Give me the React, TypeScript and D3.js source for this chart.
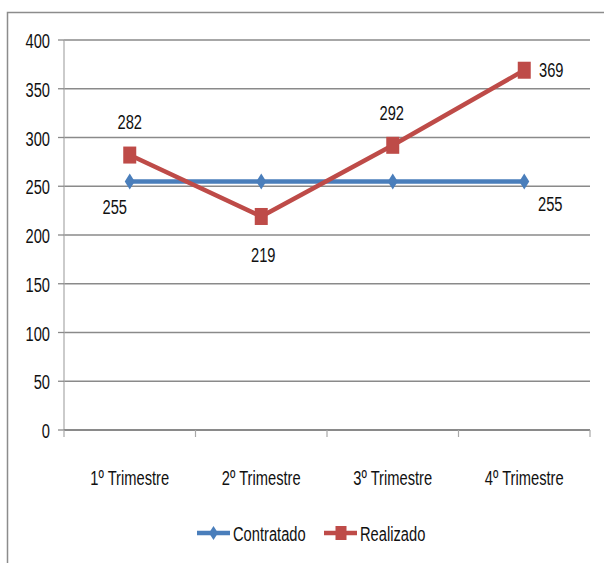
import React from "react";
import * as d3 from "d3";

const categories = ["1º Trimestre", "2º Trimestre", "3º Trimestre", "4º Trimestre"];
const contratado = [255, 255, 255, 255];
const realizado = [282, 219, 292, 369];
const yTicks = [0, 50, 100, 150, 200, 250, 300, 350, 400];
const contratadoLabelShown = [true, false, false, true];
// label placement relative to point: dx, dy (baseline)
const contratadoLabelPos = [[-15, 33], [0, 0], [0, 0], [26, 30]];
const realizadoLabelPos = [[0, -26], [2, 46], [-1, -25], [27, 7]];

const BLUE = "#4A7EBB";
const RED = "#BE4B48";
const FONT = "'Liberation Sans', Arial, sans-serif";

function Txt({ x, y, anchor = "middle", children, size = 21 }: any) {
  return (
    <g transform={`translate(${x},${y})`}>
      <text transform="scale(0.7,1)" textAnchor={anchor} fontSize={size} fontFamily={FONT} fill="#111">
        {children}
      </text>
    </g>
  );
}

function Diamond({ cx, cy, w = 10, h = 16 }: any) {
  const p = `M${cx},${cy - h / 2}L${cx + w / 2},${cy}L${cx},${cy + h / 2}L${cx - w / 2},${cy}Z`;
  return <path d={p} fill={BLUE} />;
}

function Square({ cx, cy, w = 13, h = 17 }: any) {
  return <rect x={cx - w / 2} y={cy - h / 2} width={w} height={h} fill={RED} />;
}

export default function App() {
  const left = 64, right = 590, top = 40, bottom = 430;
  const y = d3.scaleLinear().domain([0, 400]).range([bottom, top]);
  const x = d3.scaleBand().domain(categories).range([left, right]).padding(0);
  const cx = (c: string) => (x(c) as number) + x.bandwidth() / 2;
  const line = d3.line<[number, number]>().x((d) => d[0]).y((d) => d[1]);
  const bluePts: [number, number][] = categories.map((c, i) => [cx(c), y(contratado[i])]);
  const redPts: [number, number][] = categories.map((c, i) => [cx(c), y(realizado[i])]);
  const boundaries = [...categories.map((c) => x(c) as number), right];

  return (
    <svg width={604} height={563} style={{ position: "absolute", left: 0, top: 0, background: "#fff" }}>
      <rect x={7.5} y={12.5} width={700} height={700} fill="#fff" stroke="#8c8c8c" strokeWidth={1.5} />
      {/* gridlines */}
      {yTicks.map((t) =>
        t === 0 ? null : (
          <line key={t} x1={left} x2={right} y1={y(t)} y2={y(t)} stroke="#8a8a8a" strokeWidth={1.3} />
        )
      )}
      {/* y axis */}
      <line x1={left} x2={left} y1={top} y2={bottom} stroke="#a8a8a8" strokeWidth={1.2} />
      {yTicks.map((t) => (
        <line key={"yt" + t} x1={left - 6} x2={left} y1={y(t)} y2={y(t)} stroke="#8a8a8a" strokeWidth={1.3} />
      ))}
      {yTicks.map((t) => (
        <Txt key={"yl" + t} x={50} y={y(t) + 8} anchor="end">{t}</Txt>
      ))}
      {/* x axis */}
      <line x1={left} x2={right} y1={bottom} y2={bottom} stroke="#8a8a8a" strokeWidth={2} />
      {boundaries.map((b, i) => (
        <line key={"xt" + i} x1={b} x2={b} y1={bottom} y2={bottom + 7} stroke="#a8a8a8" strokeWidth={1.2} />
      ))}
      {categories.map((c) => (
        <Txt key={"xl" + c} x={cx(c)} y={485}>{c}</Txt>
      ))}
      {/* series */}
      <path d={line(bluePts) as string} fill="none" stroke={BLUE} strokeWidth={4.5} />
      <path d={line(redPts) as string} fill="none" stroke={RED} strokeWidth={4.5} strokeLinejoin="round" />
      {bluePts.map((p, i) => (
        <Diamond key={"d" + i} cx={p[0]} cy={p[1]} />
      ))}
      {redPts.map((p, i) => (
        <Square key={"s" + i} cx={p[0]} cy={p[1]} />
      ))}
      {/* data labels */}
      {bluePts.map((p, i) =>
        contratadoLabelShown[i] ? (
          <Txt key={"bl" + i} x={p[0] + contratadoLabelPos[i][0]} y={p[1] + contratadoLabelPos[i][1]}>
            {contratado[i]}
          </Txt>
        ) : null
      )}
      {redPts.map((p, i) => (
        <Txt key={"rl" + i} x={p[0] + realizadoLabelPos[i][0]} y={p[1] + realizadoLabelPos[i][1]}>
          {realizado[i]}
        </Txt>
      ))}
      {/* legend */}
      <line x1={197} x2={230} y1={533} y2={533} stroke={BLUE} strokeWidth={4.5} />
      <Diamond cx={213.5} cy={533} w={9} h={14} />
      <Txt x={233} y={541} anchor="start">Contratado</Txt>
      <line x1={324} x2={357} y1={533} y2={533} stroke={RED} strokeWidth={4.5} />
      <Square cx={341} cy={533} w={11} h={14} />
      <Txt x={360} y={541} anchor="start">Realizado</Txt>
    </svg>
  );
}
